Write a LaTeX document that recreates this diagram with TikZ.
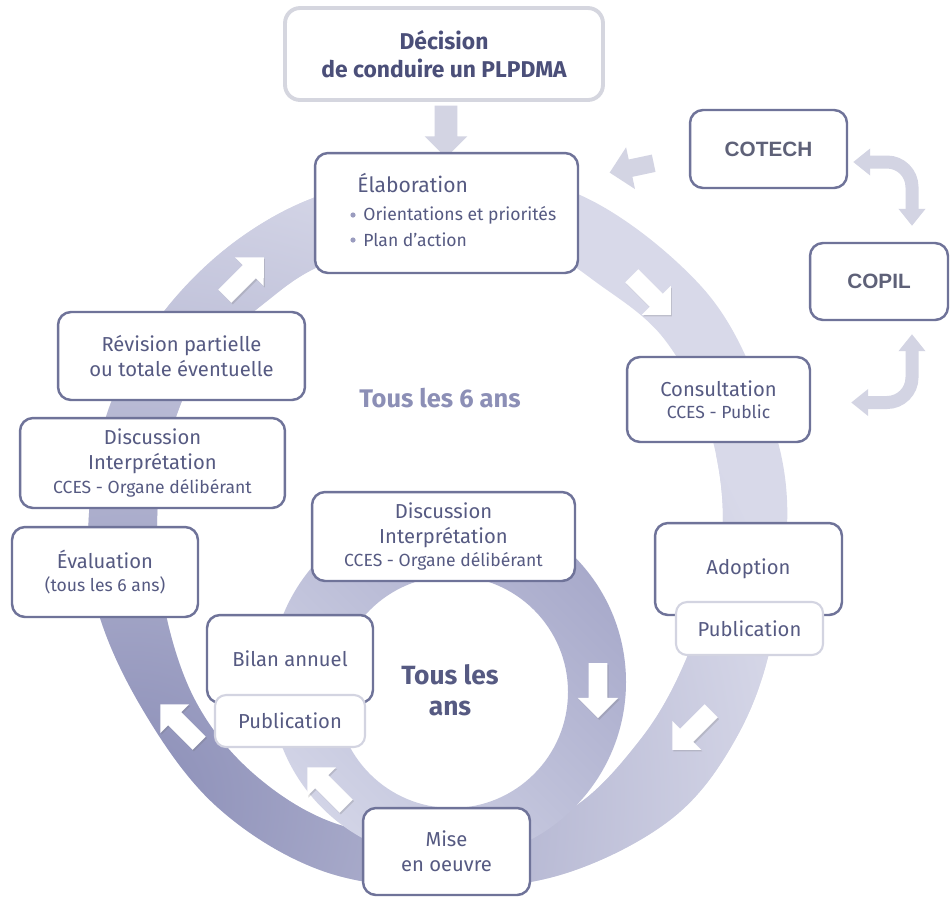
\documentclass[tikz,border=0pt]{standalone}
\usepackage{fontspec}
\setmainfont{Fira Sans}
\newfontfamily\arialfont{Liberation Sans}
\usetikzlibrary{shapes.arrows,arrows.meta,shadows,calc}
\definecolor{bordcol}{HTML}{6F7399}
\definecolor{txtcol}{HTML}{565A82}
\definecolor{pubbord}{HTML}{D3D4E1}
\definecolor{decbord}{HTML}{D5D6DF}
\definecolor{grayarr}{HTML}{D3D4E3}
\definecolor{ringlight}{HTML}{D8D9E9}
\definecolor{ringdark}{HTML}{8B8EB7}
\definecolor{innerdark}{HTML}{A7A9CA}
\definecolor{innerlight}{HTML}{D3D5E7}
\definecolor{tsixcol}{HTML}{8C8FB6}
\definecolor{deccol}{HTML}{4B4F79}
\definecolor{cocol}{HTML}{5E6178}
\definecolor{bulcol}{HTML}{9A9CBF}
\tikzset{
  stepbox/.style={draw=bordcol, line width=1.4pt, rounded corners=0.26cm, fill=white, text=txtcol, align=center, inner sep=0pt,
     font=\fontsize{11.5}{14.2}\selectfont},
  pubbox/.style={draw=pubbord, line width=1.2pt, rounded corners=0.22cm, fill=white, text=txtcol, align=center, inner sep=0pt,
     font=\fontsize{11.5}{14.2}\selectfont},
  cobox/.style={draw=bordcol, line width=1.4pt, rounded corners=0.26cm, fill=white, text=cocol, align=center, inner sep=0pt,
     font=\arialfont\bfseries\fontsize{11.8}{14}\selectfont},
  ringarrow/.style={single arrow, fill=white, draw=none, minimum height=1.1cm, inner xsep=0pt, inner ysep=0.18cm,
     single arrow head extend=0.22cm, single arrow tip angle=90,
     drop shadow={opacity=0.22, shadow xshift=0.7pt, shadow yshift=-0.9pt, fill=black!60}},
  grayarrow/.style={single arrow, fill=grayarr, draw=none, inner xsep=0pt, single arrow tip angle=90},
  grayline/.style={draw=grayarr, line width=0.26cm, rounded corners=0.5cm,
     {Triangle[width=0.52cm,length=0.34cm]}-{Triangle[width=0.52cm,length=0.34cm]}}
}
\begin{document}
\begin{tikzpicture}[x=0.02cm,y=-0.02cm]
\useasboundingbox (0,0) rectangle (950,897);
\fill[white] (0,0) rectangle (950,897);

% outer ring
\begin{scope}
\clip plot[smooth cycle, tension=0.6] coordinates {(445,172) (580,195) (700,285) (760,390) (787,500) (772,640) (735,740) (670,820) (560,875) (440,888) (320,870) (215,805) (140,705) (95,600) (90,500) (112,400) (165,310) (240,238) (330,192)}
      plot[smooth cycle, tension=0.6] coordinates {(445,238) (330,262) (262,305) (205,360) (175,420) (158,500) (163,600) (195,700) (255,775) (340,825) (445,835) (560,815) (640,740) (690,650) (722,540) (710,430) (665,340) (600,285) (540,250)};
\fill[ringlight] (0,0) rectangle (950,897);
\shade[inner color=ringdark, outer color=ringlight] (130,800) circle (680);
\end{scope}

% inner ring
\begin{scope}
\clip (448,682) ++(178,0) arc[start angle=0,end angle=360,radius=178]
      (452,692) ++(116,0) arc[start angle=0,end angle=-360,radius=116];
\shade[top color=innerdark, bottom color=innerlight, shading angle=-45] (260,495) rectangle (635,870);
\end{scope}

% arrows on the rings
\node[ringarrow, rotate=45] (ar1) at (241,280) {};
\node[ringarrow, rotate=-45] (ar2) at (648,292) {};
\node[ringarrow, rotate=-90] (ar3) at (598,686) {};
\node[ringarrow, rotate=-135] (ar4) at (695,727) {};
\node[ringarrow, rotate=135] (ar5) at (183,727) {};
\node[ringarrow, rotate=135] (ar6) at (330,790) {};

% gray arrows
\node[grayarrow, rotate=-90, minimum height=1.04cm, inner ysep=0.22cm, single arrow head extend=0.2cm] (decarr) at (446,126) {};
\node[grayarrow, rotate=192, minimum height=0.9cm, inner ysep=0.17cm, single arrow head extend=0.25cm] (cotarr) at (636,167) {};

% boxes
\node[draw=decbord, line width=2.2pt, rounded corners=0.3cm, fill=white, text=deccol, align=center, inner sep=0pt,
      minimum width=6.36cm, minimum height=1.84cm, font=\bfseries\fontsize{13}{15.8}\selectfont] (dec) at (444,54)
      {Décision\\de conduire un PLPDMA};

\node[stepbox, minimum width=5.26cm, minimum height=2.4cm] (elab) at (446.5,213) {};
\node[text=txtcol, anchor=west, inner sep=0pt, font=\fontsize{12}{14}\selectfont] (elabt) at (357,183) {Élaboration};
\fill[bulcol] (353,215) circle (2.6);
\fill[bulcol] (353,240) circle (2.6);
\node[text=txtcol, anchor=west, inner sep=0pt, font=\fontsize{10}{12}\selectfont] (elab1) at (363,215) {Orientations et priorités};
\node[text=txtcol, anchor=west, inner sep=0pt, font=\fontsize{10}{12}\selectfont] (elab2) at (363,240) {Plan d'action};

\node[cobox, minimum width=3.14cm, minimum height=1.56cm] (cotech) at (768.5,149) {COTECH};
\node[cobox, minimum width=2.76cm, minimum height=1.54cm] (copil) at (879,281.5) {COPIL};

\node[stepbox, minimum width=3.66cm, minimum height=1.7cm] (consult) at (718.5,399.5)
      {Consultation\\[-2pt]{\fontsize{10}{12}\selectfont CCES - Public}};

\draw[grayline] ([xshift=0.1cm,yshift=-0.26cm]cotech.east) -| ([xshift=0.66cm,yshift=0.32cm]copil.north);
\draw[grayline] ([xshift=0.66cm,yshift=-0.26cm]copil.south) |- ([xshift=0.8cm,yshift=-0.06cm]consult.east);

\node[stepbox, minimum width=3.74cm, minimum height=1.84cm] (adopt) at (748.5,569) {Adoption};
\node[pubbox, minimum width=2.94cm, minimum height=1.06cm] (pubA) at (749.5,628.5) {Publication};

\node[stepbox, minimum width=4.94cm, minimum height=1.76cm] (revis) at (181.5,356)
      {Révision partielle\\ou totale éventuelle};
\node[stepbox, minimum width=5.3cm, minimum height=1.8cm] (discL) at (152.5,463)
      {Discussion\\Interprétation\\[-1pt]{\fontsize{10}{12}\selectfont CCES - Organe délibérant}};
\node[stepbox, minimum width=3.72cm, minimum height=1.8cm] (evalu) at (105,572)
      {Évaluation\\[-1pt]{\fontsize{10}{12}\selectfont (tous les 6 ans)}};
\node[stepbox, minimum width=5.26cm, minimum height=1.78cm] (discC) at (443.5,536.5)
      {Discussion\\Interprétation\\[-1pt]{\fontsize{10}{12}\selectfont CCES - Organe délibérant}};
\node[stepbox, minimum width=3.32cm, minimum height=1.76cm] (bilan) at (290,659) {Bilan annuel};
\node[pubbox, minimum width=3.0cm, minimum height=1.04cm] (pubB) at (290,721) {Publication};
\node[stepbox, minimum width=3.34cm, minimum height=1.74cm] (mise) at (446.5,851.5) {Mise\\en oeuvre};

% cycle labels
\node[text=tsixcol, font=\bfseries\fontsize{14.5}{17}\selectfont] (t6) at (440,398) {Tous les 6 ans};
\node[text=txtcol, align=center, font=\bfseries\fontsize{15}{17.5}\selectfont] (t1) at (450,690) {Tous les\\ans};
\end{tikzpicture}
\end{document}
